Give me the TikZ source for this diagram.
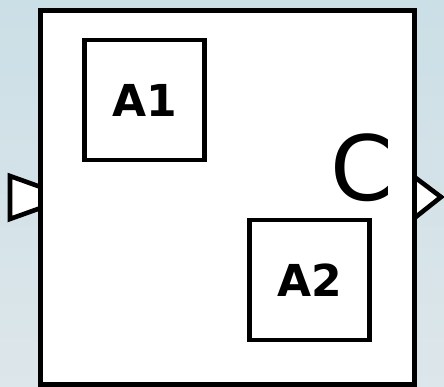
\documentclass[tikz,border=0pt]{standalone}
\usepackage{fontspec}
\setmainfont{DejaVu Sans}
\usepackage{tikz}
\usetikzlibrary{positioning}
\definecolor{bgtop}{HTML}{CBDFE6}
\definecolor{bgbottom}{HTML}{DDE6EA}

\begin{document}
\begin{tikzpicture}[
  x=1pt, y=1pt,
  block/.style={draw, line width=5pt, fill=white, minimum width=374.5pt,
    minimum height=373.5pt, inner sep=0pt, outer sep=0pt},
  part/.style={draw, line width=4.6pt, fill=white, minimum size=120pt,
    inner sep=0pt, outer sep=0pt, font=\bfseries\fontsize{44}{44}\selectfont},
  port/.style={draw, line width=4.6pt, fill=white, line join=miter}
]
  % background
  \shade[top color=bgtop, bottom color=bgbottom] (0,0) rectangle (444,386);
  \useasboundingbox (0,0) rectangle (444,386);

  % ports, partly hidden by the block
  \draw[port] (10,210) -- (70,188.5) -- (10,167) -- cycle;
  \draw[port] (414.5,209) -- (441,189) -- (414.5,168) -- cycle;

  \node[block] (sys) at (227.25,188.75) {};
  \node[part] (A1) at (144.5,286) {A1};
  \node[part, below right=60pt and 45pt of A1] (A2) {A2};
  \node[font=\fontsize{90}{90}\selectfont, inner sep=0pt] (lbl) at (361.5,218) {C};
\end{tikzpicture}
\end{document}
